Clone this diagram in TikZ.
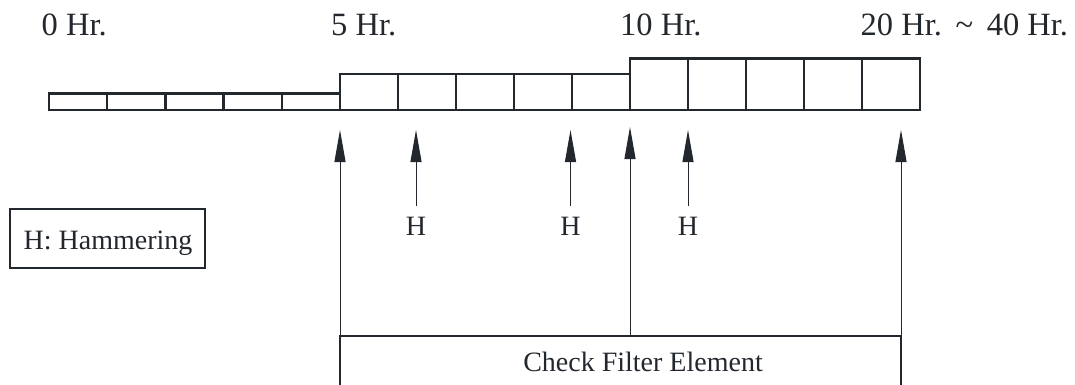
\documentclass[tikz,border=0pt]{standalone}
\usepackage{fontspec}
\setmainfont{Liberation Serif}
\usetikzlibrary{arrows.meta}
\definecolor{ink}{RGB}{35,40,46}
\begin{document}
\begin{tikzpicture}[x=1pt,y=-1pt,
  cell/.style={draw=ink,line width=2.4pt,inner sep=0pt,outer sep=0pt,
    minimum width=58.2pt,anchor=south west},
  hour/.style={text=ink,font=\fontsize{32.5}{36}\selectfont,inner sep=0pt,anchor=base west},
  txt/.style={text=ink,font=\fontsize{28}{32}\selectfont,inner sep=0pt,anchor=base},
  tick/.style={draw=ink,line width=1pt,-{Triangle[length=32pt,width=11pt]}},
  frame/.style={draw=ink,line width=2.4pt,inner sep=0pt,outer sep=0pt}]
\useasboundingbox (0,0) rectangle (1075,385);
\fill[white] (0,0) rectangle (1075,385);
\clip (0,0) rectangle (1075,385);

% hour labels
\node[hour] (h0)  at (41.5,36) {0 Hr.};
\node[hour] (h5)  at (331,36) {5 Hr.};
\node[hour] (h10) at (620,36) {10 Hr.};
\node[hour] (h20) at (860.5,36) {20 Hr.\hspace{0.42em}\textasciitilde\hspace{0.42em}40 Hr.};

% time strip: three stages of five cells each
\foreach \i in {1,...,5} {
  \node[cell,minimum height=16.5pt] (s\i) at ({49+58.2*(\i-1)},110) {};
  \node[cell,minimum height=36pt]   (m\i) at ({340+58*(\i-1)},110) {};
  \node[cell,minimum height=51.5pt] (l\i) at ({630+58*(\i-1)},110) {};
}

% arrow tips under the strip
\coordinate (t5)  at (340,130);
\coordinate (ta)  at (416,130);
\coordinate (tb)  at (570.5,130);
\coordinate (t10) at (630,127);
\coordinate (tc)  at (688,130);
\coordinate (t20) at (901,130);

% legend
\node[frame,minimum width=195pt,minimum height=59pt,anchor=north west] (legend) at (10,209) {};
\node[txt] (legendtxt) at (108,249.5) {H: Hammering};

% hammering marks
\node[txt] (ha) at (416,235) {H};
\node[txt] (hb) at (570.5,235) {H};
\node[txt] (hc) at (688,235) {H};
\draw[tick,shorten <=10pt] (ha.north) -- (ta);
\draw[tick,shorten <=10pt] (hb.north) -- (tb);
\draw[tick,shorten <=10pt] (hc.north) -- (tc);

% filter check box (open at the bottom)
\node[frame,minimum width=561pt,minimum height=56pt,anchor=north west] (check) at (340,336) {};
\node[txt] (checktxt) at (643,371.5) {Check Filter Element};
\draw[tick] (check.north west) -- (t5);
\draw[tick] (check.north -| t10) -- (t10);
\draw[tick] (check.north east) -- (t20);
\end{tikzpicture}
\end{document}
